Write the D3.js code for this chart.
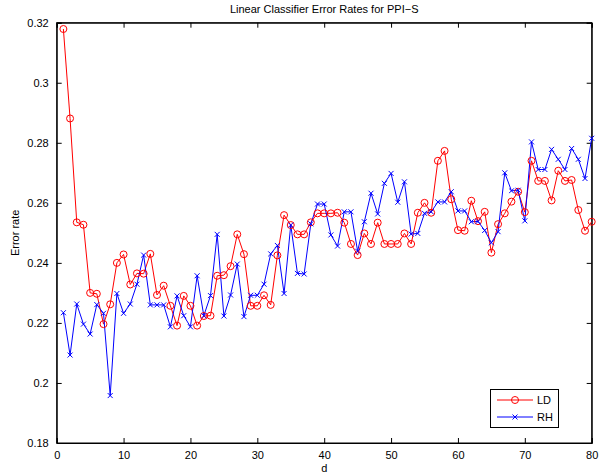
<!DOCTYPE html>
<html>
<head>
<meta charset="utf-8">
<script src="https://cdn.jsdelivr.net/npm/d3@7"></script>
<style>
  html, body { margin: 0; padding: 0; background: #fff; }
  svg { display: block; font-family: "Liberation Sans", Arial, Helvetica, sans-serif; }
</style>
</head>
<body>
<svg id="chart" width="606" height="476"></svg>
<script>
const title = "Linear Classifier Error Rates for PPI\u2212S";
const xLabel = "d";
const yLabel = "Error rate";
const seriesNames = ["LD", "RH"];
const xTicks = [0, 10, 20, 30, 40, 50, 60, 70, 80];
const yTicks = [0.18, 0.2, 0.22, 0.24, 0.26, 0.28, 0.3, 0.32];

const ldValues = [
  0.3179, 0.2881, 0.2535, 0.2527, 0.2300, 0.2297, 0.2196, 0.2262, 0.2400, 0.2428,
  0.2328, 0.2365, 0.2364, 0.2430, 0.2293, 0.2324, 0.2257, 0.2191, 0.2290, 0.2257,
  0.2191, 0.2223, 0.2224, 0.2357, 0.2359, 0.2389, 0.2495, 0.2429, 0.2257, 0.2257,
  0.2292, 0.2260, 0.2425, 0.2559, 0.2526, 0.2495, 0.2495, 0.2535, 0.2565, 0.2565,
  0.2565, 0.2567, 0.2534, 0.2463, 0.2426, 0.2498, 0.2463, 0.2534, 0.2463, 0.2463,
  0.2463, 0.2498, 0.2463, 0.2567, 0.2600, 0.2567, 0.2740, 0.2773, 0.2612, 0.2509,
  0.2507, 0.2607, 0.2539, 0.2570, 0.2434, 0.2529, 0.2565, 0.2604, 0.2637, 0.2569,
  0.2740, 0.2673, 0.2673, 0.2608, 0.2707, 0.2673, 0.2676, 0.2576, 0.2507, 0.2537
];
const rhValues = [
  0.2234, 0.2093, 0.2263, 0.2196, 0.2163, 0.2261, 0.2232, 0.1958, 0.2298, 0.2232,
  0.2263, 0.2329, 0.2426, 0.2260, 0.2260, 0.2260, 0.2187, 0.2290, 0.2224, 0.2187,
  0.2357, 0.2224, 0.2291, 0.2495, 0.2223, 0.2293, 0.2396, 0.2221, 0.2292, 0.2292,
  0.2329, 0.2430, 0.2458, 0.2298, 0.2526, 0.2365, 0.2363, 0.2530, 0.2596, 0.2596,
  0.2493, 0.2456, 0.2570, 0.2570, 0.2439, 0.2537, 0.2632, 0.2563, 0.2665, 0.2698,
  0.2602, 0.2670, 0.2496, 0.2498, 0.2565, 0.2570, 0.2603, 0.2603, 0.2637, 0.2573,
  0.2573, 0.2537, 0.2538, 0.2508, 0.2467, 0.2504, 0.2700, 0.2640, 0.2642, 0.2540,
  0.2803, 0.2711, 0.2711, 0.2778, 0.2745, 0.2711, 0.2781, 0.2745, 0.2681, 0.2815
];
const dValues = d3.range(1, ldValues.length + 1);

const svg = d3.select("#chart");
const mLeft = 56.7, mRight = 591.7, mTop = 22.7, mBottom = 443;

const x = d3.scaleLinear().domain([0, 80]).range([mLeft, mRight]);
const y = d3.scaleLinear().domain([0.18, 0.32]).range([mBottom, mTop]);

// frame
svg.append("rect")
  .attr("x", mLeft).attr("y", mTop)
  .attr("width", mRight - mLeft).attr("height", mBottom - mTop)
  .attr("fill", "#fff").attr("stroke", "#000").attr("stroke-width", 1);

const fmt = v => String(+v.toFixed(2));
const tickLen = 5;

// axes (ticks inside, MATLAB style)
const xAxisB = d3.axisBottom(x).tickValues(xTicks).tickSize(-tickLen).tickPadding(8).tickFormat(d3.format("d"));
const xAxisT = d3.axisTop(x).tickValues(xTicks).tickSize(-tickLen).tickFormat("");
const yAxisL = d3.axisLeft(y).tickValues(yTicks).tickSize(-tickLen).tickPadding(8).tickFormat(fmt);
const yAxisR = d3.axisRight(y).tickValues(yTicks).tickSize(-tickLen).tickFormat("");

function style(g) {
  g.select(".domain").attr("stroke", "#000").attr("stroke-width", 1);
  g.selectAll(".tick line").attr("stroke", "#000").attr("stroke-width", 1);
  g.selectAll(".tick text").attr("fill", "#000").attr("font-size", 11)
    .attr("font-family", "'Liberation Sans', Arial, Helvetica, sans-serif");
}
svg.append("g").attr("transform", `translate(0,${mBottom})`).call(xAxisB).call(style);
svg.append("g").attr("transform", `translate(0,${mTop})`).call(xAxisT).call(style);
svg.append("g").attr("transform", `translate(${mLeft},0)`).call(yAxisL).call(style);
svg.append("g").attr("transform", `translate(${mRight},0)`).call(yAxisR).call(style);

// labels
svg.append("text").attr("x", (mLeft + mRight) / 2).attr("y", 13)
  .attr("text-anchor", "middle").attr("font-size", 11).text(title);
svg.append("text").attr("x", (mLeft + mRight) / 2).attr("y", 472)
  .attr("text-anchor", "middle").attr("font-size", 11).text(xLabel);
svg.append("text").attr("transform", `translate(19,${(mTop + mBottom) / 2}) rotate(-90)`)
  .attr("text-anchor", "middle").attr("font-size", 11).text(yLabel);

const ld = dValues.map((d, i) => ({ d, v: ldValues[i] }));
const rh = dValues.map((d, i) => ({ d, v: rhValues[i] }));
const line = d3.line().x(p => x(p.d)).y(p => y(p.v));

const plot = svg.append("g");
plot.append("path").datum(ld).attr("d", line).attr("fill", "none").attr("stroke", "#ff0000").attr("stroke-width", 1);
plot.append("path").datum(rh).attr("d", line).attr("fill", "none").attr("stroke", "#0000ff").attr("stroke-width", 1);

plot.selectAll("circle.ld").data(ld).enter().append("circle")
  .attr("class", "ld").attr("cx", p => x(p.d)).attr("cy", p => y(p.v)).attr("r", 3.5)
  .attr("fill", "none").attr("stroke", "#ff0000").attr("stroke-width", 1);

const xs = 2.5;
const crossPath = (cx, cy) => `M${cx - xs},${cy - xs}L${cx + xs},${cy + xs}M${cx - xs},${cy + xs}L${cx + xs},${cy - xs}`;
plot.selectAll("path.rh").data(rh).enter().append("path")
  .attr("class", "rh").attr("d", p => crossPath(x(p.d), y(p.v)))
  .attr("fill", "none").attr("stroke", "#0000ff").attr("stroke-width", 1);

// legend
const lg = svg.append("g");
lg.append("rect").attr("x", 490.5).attr("y", 389.5).attr("width", 68).attr("height", 38)
  .attr("fill", "#fff").attr("stroke", "#000").attr("stroke-width", 1);
const legendRows = [
  { name: seriesNames[0], color: "#ff0000", marker: "circle", yy: 400 },
  { name: seriesNames[1], color: "#0000ff", marker: "cross", yy: 417 }
];
legendRows.forEach(r => {
  lg.append("line").attr("x1", 497).attr("x2", 533).attr("y1", r.yy).attr("y2", r.yy)
    .attr("stroke", r.color).attr("stroke-width", 1);
  if (r.marker === "circle") {
    lg.append("circle").attr("cx", 515).attr("cy", r.yy).attr("r", 3.5)
      .attr("fill", "none").attr("stroke", r.color);
  } else {
    lg.append("path").attr("d", crossPath(515, r.yy)).attr("stroke", r.color).attr("fill", "none");
  }
  lg.append("text").attr("x", 537).attr("y", r.yy + 4).attr("font-size", 11).text(r.name);
});
</script>
</body>
</html>
